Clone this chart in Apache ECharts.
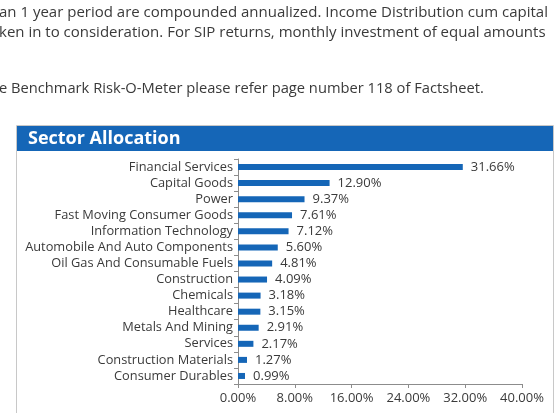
<!DOCTYPE html>
<html>
<head>
<meta charset="utf-8">
<script src="https://cdn.jsdelivr.net/npm/echarts@6/dist/echarts.min.js"></script>
<style>
  html, body { margin: 0; padding: 0; background: #fff; }
  #chart { width: 557px; height: 413px; }
</style>
</head>
<body>
<div id="chart"></div>
<script>
// Sector allocation (% of net assets)
const sectors = [
  'Financial Services', 'Capital Goods', 'Power', 'Fast Moving Consumer Goods',
  'Information Technology', 'Automobile And Auto Components', 'Oil Gas And Consumable Fuels',
  'Construction', 'Chemicals', 'Healthcare', 'Metals And Mining', 'Services',
  'Construction Materials', 'Consumer Durables'
];
const weights = [31.66, 12.90, 9.37, 7.61, 7.12, 5.60, 4.81, 4.09, 3.18, 3.15, 2.91, 2.17, 1.27, 0.99];
const xTicks = { min: 0, max: 40, step: 8 };

const noteLines = [
  'an 1 year period are compounded annualized. Income Distribution cum capital',
  'ken in to consideration. For SIP returns, monthly investment of equal amounts',
  'e Benchmark Risk-O-Meter please refer page number 118 of Factsheet.'
];

const FONT = '"Open Sans", "Noto Sans", sans-serif';
const chart = echarts.init(document.getElementById('chart'), null, { renderer: 'canvas' });

function note(text, y, size) {
  return { type: 'text', silent: true,
    style: { x: -1, y: y, text: text, font: size + 'px ' + FONT, fill: '#3a3a3a', verticalAlign: 'middle' } };
}

chart.setOption({
  backgroundColor: '#ffffff',
  animation: false,
  graphic: [
    note(noteLines[0], 13, 15),
    note(noteLines[1], 33, 15),
    note(noteLines[2], 89, 14.7),
    // panel frame
    { type: 'rect', shape: { x: 16.5, y: 125.5, width: 537, height: 300 },
      style: { fill: 'none', stroke: '#c8c8c8', lineWidth: 1 }, silent: true },
    // header band
    { type: 'rect', shape: { x: 17, y: 126, width: 536, height: 25 },
      style: { fill: '#1566b7' }, silent: true },
    { type: 'text', silent: true,
      style: { x: 28, y: 139, text: 'Sector Allocation', font: 'bold 18px ' + FONT, fill: '#ffffff', verticalAlign: 'middle' } }
  ],
  grid: { left: 238, right: 35, top: 159, bottom: 29, containLabel: false },
  xAxis: {
    type: 'value',
    min: xTicks.min, max: xTicks.max, interval: xTicks.step,
    axisLine: { show: true, lineStyle: { color: '#8c8c8c', width: 1 } },
    axisTick: { show: true, length: 4, lineStyle: { color: '#8c8c8c' } },
    splitLine: { show: false },
    axisLabel: {
      color: '#3a3a3a', fontSize: 13, fontFamily: FONT, margin: 8,
      formatter: v => v.toFixed(2) + '%'
    }
  },
  yAxis: {
    type: 'category',
    data: sectors,
    inverse: true,
    axisLine: { show: true, lineStyle: { color: '#8c8c8c', width: 1 } },
    axisTick: { show: true, length: 4, interval: 0, lineStyle: { color: '#8c8c8c' } },
    axisLabel: { color: '#3a3a3a', fontSize: 12.8, fontFamily: FONT, margin: 5, interval: 0 }
  },
  series: [{
    type: 'bar',
    data: weights,
    barWidth: 6,
    itemStyle: { color: '#1566b7' },
    label: {
      show: true, position: 'right', distance: 8,
      color: '#3a3a3a', fontSize: 13, fontFamily: FONT,
      formatter: p => p.value.toFixed(2) + '%'
    }
  }]
});
</script>
</body>
</html>
